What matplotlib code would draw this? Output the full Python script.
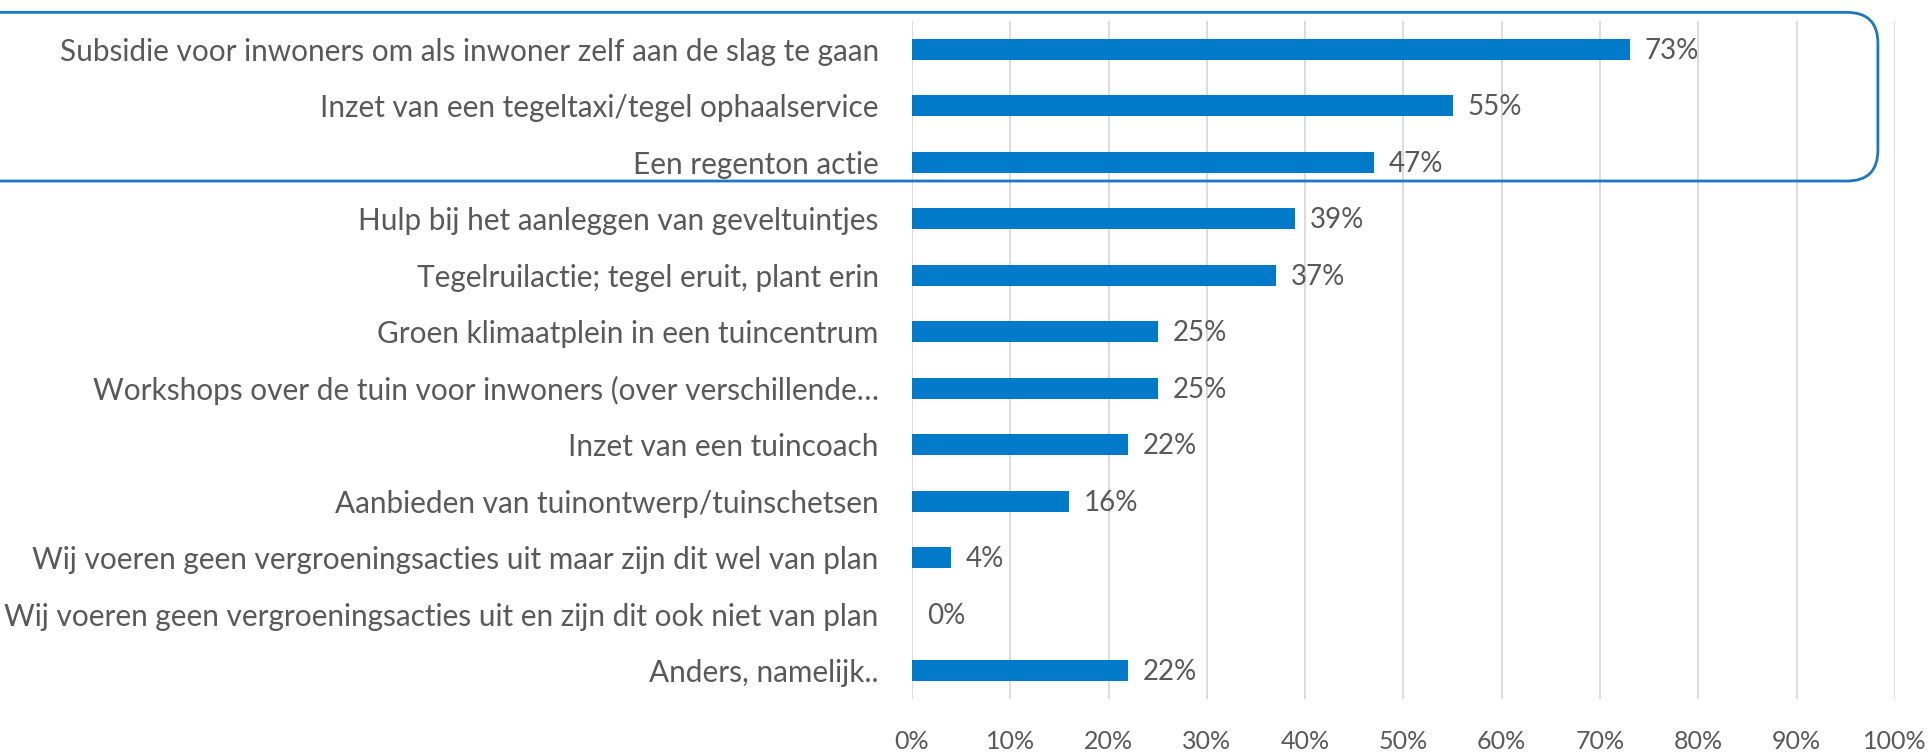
import matplotlib
matplotlib.use("Agg")
import matplotlib.pyplot as plt
from matplotlib.patches import FancyBboxPatch
from matplotlib.ticker import MultipleLocator, PercentFormatter

labels = [
    "Subsidie voor inwoners om als inwoner zelf aan de slag te gaan",
    "Inzet van een tegeltaxi/tegel ophaalservice",
    "Een regenton actie",
    "Hulp bij het aanleggen van geveltuintjes",
    "Tegelruilactie; tegel eruit, plant erin",
    "Groen klimaatplein in een tuincentrum",
    "Workshops over de tuin voor inwoners (over verschillende\u2026",
    "Inzet van een tuincoach",
    "Aanbieden van tuinontwerp/tuinschetsen",
    "Wij voeren geen vergroeningsacties uit maar zijn dit wel van plan",
    "Wij voeren geen vergroeningsacties uit en zijn dit ook niet van plan",
    "Anders, namelijk..",
]
values = [73, 55, 47, 39, 37, 25, 25, 22, 16, 4, 0, 22]

bar_color = "#007AC9"
text_color = "#595959"
grid_color = "#D9D9D9"

plt.rcParams['font.family'] = ['Lato', 'DejaVu Sans']

fig = plt.figure(figsize=(19.33, 7.53), dpi=100)
ax = fig.add_axes([0.4718, 0.0717, 0.5085, 0.9005])

y = list(range(len(labels)))
ax.barh(y, values, height=0.37, color=bar_color, zorder=3)
for yi, v in zip(y, values):
    ax.text(v + 1.5, yi + 0.03, "%d%%" % v, va="center", ha="left",
            fontsize=20, color=text_color, zorder=4)

ax.set_xlim(0, 100)
ax.set_ylim(len(labels) - 0.5, -0.5)
ax.set_yticks(y)
ax.set_yticklabels(labels, fontsize=21.4, color=text_color)
ax.xaxis.set_major_locator(MultipleLocator(10))
ax.xaxis.set_major_formatter(PercentFormatter(decimals=0))
ax.tick_params(axis="x", labelsize=18, labelcolor=text_color, length=0, pad=22)
ax.tick_params(axis="y", length=0, pad=24)
ax.grid(axis="x", color=grid_color, linewidth=1.3, zorder=0)
for s in ax.spines.values():
    s.set_visible(False)

# rounded frame around the top three answers
box = FancyBboxPatch((-0.02, 0.7596), 0.9915, 0.224,
                     boxstyle="round,pad=0,rounding_size=0.016",
                     mutation_aspect=1933 / 753,
                     transform=fig.transFigure, fill=False,
                     edgecolor="#1A78C2", linewidth=2, clip_on=False)
fig.patches.append(box)

fig.savefig("out.png", dpi=100)
